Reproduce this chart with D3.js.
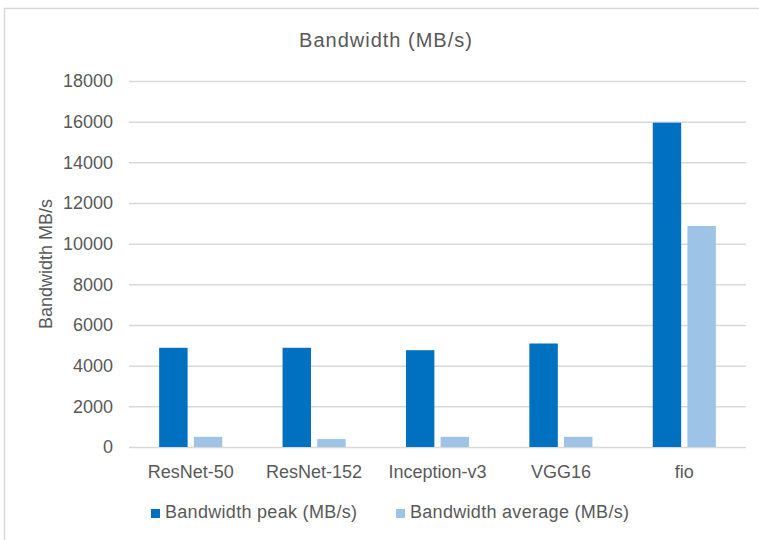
<!DOCTYPE html>
<html>
<head>
<meta charset="utf-8">
<script src="https://cdn.jsdelivr.net/npm/d3@7"></script>
<style>
  body { margin: 0; background: #fff; }
  svg { display: block; }
  text { font-family: "Liberation Sans", Arial, sans-serif; fill: #595959; }
</style>
</head>
<body>
<svg id="chart"></svg>
<script>
// chart data
const categories = ['ResNet-50', 'ResNet-152', 'Inception-v3', 'VGG16', 'fio'];
const seriesNames = ['Bandwidth peak (MB/s)', 'Bandwidth average (MB/s)'];
const peakValues = [4880, 4880, 4760, 5090, 15950];
const averageValues = [500, 390, 500, 500, 10870];
const yTicks = [0, 2000, 4000, 6000, 8000, 10000, 12000, 14000, 16000, 18000];

const colors = ['#0070C0', '#9DC3E6'];

const width = 759;
const height = 540;
const margin = { top: 81, right: 13, bottom: 93, left: 129 };

const svg = d3.select('#chart')
    .attr('width', width)
    .attr('height', height);

// outer frame (runs off the right and bottom edge)
svg.append('rect')
    .attr('x', 4.5)
    .attr('y', 8.5)
    .attr('width', width + 20)
    .attr('height', height + 20)
    .attr('fill', 'none')
    .attr('stroke', '#D9D9D9')
    .attr('stroke-width', 1.5);

const rows = categories.map((c, i) => ({ cat: c, values: [peakValues[i], averageValues[i]] }));

const x0 = d3.scaleBand()
    .domain(categories)
    .range([margin.left, width - margin.right])
    .padding(0);

const x1 = d3.scaleBand()
    .domain(d3.range(seriesNames.length))
    .range([0, x0.bandwidth()])
    .paddingInner(0.18)
    .paddingOuter(0.87);

const y = d3.scaleLinear()
    .domain([0, 18000])
    .range([height - margin.bottom, margin.top]);

// gridlines
const yAxis = d3.axisLeft(y)
    .tickValues(yTicks)
    .tickSize(-(width - margin.left - margin.right))
    .tickPadding(16)
    .tickFormat(d3.format('d'));

const yg = svg.append('g')
    .attr('transform', `translate(${margin.left},0)`)
    .call(yAxis);
yg.select('.domain').remove();
yg.selectAll('.tick line')
    .attr('stroke', '#D9D9D9')
    .attr('stroke-width', 1.5);
yg.selectAll('.tick text')
    .attr('font-size', '18px')
    .style('fill', '#595959')
    .style('font-family', '"Liberation Sans", Arial, sans-serif');

// bars
const groups = svg.append('g')
    .selectAll('g')
    .data(rows)
    .join('g')
    .attr('transform', d => `translate(${x0(d.cat)},0)`);

groups.selectAll('rect')
    .data(d => d.values.map((v, i) => ({ i: i, v: v })))
    .join('rect')
    .attr('x', d => x1(d.i))
    .attr('width', x1.bandwidth())
    .attr('y', d => y(d.v))
    .attr('height', d => y(0) - y(d.v))
    .attr('fill', d => colors[d.i]);

// category labels
const xAxis = d3.axisBottom(x0).tickSize(0).tickPadding(18);
const xg = svg.append('g')
    .attr('transform', `translate(0,${y(0)})`)
    .call(xAxis);
xg.select('.domain').remove();
xg.selectAll('.tick text')
    .attr('font-size', '18px')
    .style('fill', '#595959')
    .style('font-family', '"Liberation Sans", Arial, sans-serif');

// title
svg.append('text')
    .attr('x', 386)
    .attr('y', 47)
    .attr('text-anchor', 'middle')
    .attr('font-size', '20px')
    .style('letter-spacing', '1px')
    .text('Bandwidth (MB/s)');

// y axis title
svg.append('text')
    .attr('transform', `translate(52,${(y(0) + y(18000)) / 2}) rotate(-90)`)
    .attr('text-anchor', 'middle')
    .attr('font-size', '18px')
    .text('Bandwidth MB/s');

// legend
const legendX = [151, 396];
const legend = svg.append('g')
    .selectAll('g')
    .data(seriesNames)
    .join('g')
    .attr('transform', (d, i) => `translate(${legendX[i]},509)`);

legend.append('rect')
    .attr('width', 9)
    .attr('height', 9)
    .attr('fill', (d, i) => colors[i]);

legend.append('text')
    .attr('x', 14)
    .attr('y', 9)
    .attr('font-size', '18px')
    .style('letter-spacing', '0.3px')
    .text(d => d);
</script>
</body>
</html>
